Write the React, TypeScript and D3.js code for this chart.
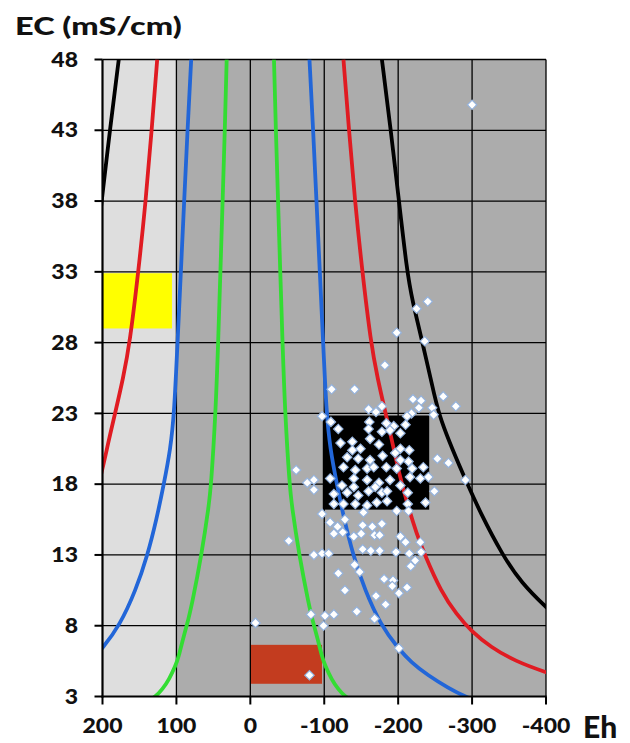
import React from "react";
import * as d3 from "d3";

const WIDTH = 630;
const HEIGHT = 743;

// Axis ticks
const ehTicks = [200, 100, 0, -100, -200, -300, -400];
const ecTicks = [3, 8, 13, 18, 23, 28, 33, 38, 43, 48];

// Reference curves, symmetric about Eh = 0 mV: EC level and |Eh| distance
const blackCurveEC = [48, 43, 38.5, 33, 31, 28, 24, 22.5, 20.5, 18.2, 16, 13, 11, 9.3, 8];
const blackCurveDist = [178, 190, 200, 212, 219, 233, 250, 258, 273, 292, 311, 341, 367, 400, 428];

const redCurveEC = [48, 43, 38, 33, 28, 25.5, 23, 21, 18.8, 16.5, 14.5, 13, 10.4, 8.8, 7.6, 6.5, 5.5, 4.7, 4.2];
const redCurveDist = [126, 133.5, 141.5, 151.5, 163, 172, 183, 192, 201, 213, 225, 236, 258, 279, 299, 325, 358, 400, 430];

const blueCurveEC = [48, 43, 38, 33, 28, 23, 20.5, 18, 15.5, 13, 10.5, 8, 6.4, 5.4, 4.5, 3.6, 3, 2.5];
const blueCurveDist = [80, 85, 89.5, 94, 98.5, 103, 108, 117, 127, 139, 155, 177, 200, 218, 240, 268, 290, 315];

const greenCurveEC = [48, 43, 38, 33, 28, 23, 18, 16.5, 13, 9.5, 8, 7.1, 5.8, 5.2, 4.2, 3.5, 3, 2.6];
const greenCurveDist = [32, 34.5, 37.5, 40.5, 43.5, 47, 53, 56, 66, 79, 86, 91, 97, 101, 110, 119, 128, 140];

// Zones: [Eh from, Eh to], [EC from, EC to]
const yellowZoneEh = [200, 106];
const yellowZoneEC = [29.0, 32.9];
const redZoneEh = [0, -97];
const redZoneEC = [3.9, 6.65];
const blackZoneEh = [-98, -242];
const blackZoneEC = [16.2, 22.85];
const lightBandEh = [200, 100];

// Samples
const sampleEh = [
  -300, -240, -225, -198, -236, -182, -110, -141, -261, -278,
  -220, -231, -228, -246, -178, -160, -170, -218, -212, -248,
  -97, -109, -161, -184, -194, -210, -119, -160, -178, -189,
  -203, -162, -122, -138, -174, -149, -138, -203, -215, -131,
  -146, -162, -179, -196, -203, -214, -253, -268, -126, -142,
  -158, -167, -184, -198, -219, -234, -62, -108, -124, -140,
  -140, -158, -174, -189, -203, -216, -230, -241, -291, -77,
  -86, -86, -113, -131, -146, -160, -169, -178, -185, -213,
  -249, -113, -126, -142, -158, -171, -185, -213, -237, -97,
  -153, -198, -214, -108, -118, -128, -113, -125, -140, -152,
  -150, -165, -178, -168, -175, -52, -86, -97, -106, -152,
  -163, -175, -197, -203, -210, -230, -215, -231, -223, -217,
  -141, -148, -119, -181, -193, -192, -212, -201, -128, -170,
  -183, -144, -168, -82, -101, -113, -99, -7, -201, -80,
];
const sampleEC = [
  44.8, 30.9, 30.4, 28.7, 28.1, 26.4, 24.7, 24.7, 24.2, 23.5,
  24.0, 23.9, 23.4, 23.4, 23.5, 23.3, 23.1, 23.0, 22.8, 22.9,
  22.8, 22.4, 22.4, 22.3, 22.1, 22.2, 21.9, 21.9, 21.7, 21.8,
  21.6, 21.2, 20.9, 21.0, 20.8, 20.5, 20.4, 20.5, 20.4, 19.9,
  19.8, 19.7, 20.0, 20.2, 19.7, 19.6, 19.8, 19.5, 19.2, 19.0,
  19.1, 19.2, 19.2, 19.1, 19.1, 19.2, 19.0, 18.4, 17.9, 18.4,
  17.8, 18.3, 18.1, 18.3, 17.9, 18.5, 18.4, 18.5, 18.3, 18.1,
  18.3, 17.6, 17.3, 17.4, 17.2, 17.5, 17.8, 17.4, 17.5, 17.4,
  17.5, 16.6, 16.6, 16.6, 16.5, 16.7, 16.8, 16.6, 16.7, 15.9,
  16.0, 16.1, 16.1, 15.3, 15.0, 15.5, 14.5, 14.6, 14.3, 15.1,
  14.5, 15.0, 15.2, 14.4, 14.4, 14.0, 13.0, 13.1, 13.1, 13.4,
  13.3, 13.3, 13.2, 14.3, 13.9, 13.9, 13.1, 13.2, 12.6, 12.2,
  12.3, 11.8, 11.7, 11.3, 11.2, 10.8, 10.7, 10.3, 10.5, 10.1,
  9.5, 9.0, 8.5, 8.8, 8.7, 8.8, 8.0, 8.2, 6.4, 4.5,
];

const FONT = "Lato, 'Open Sans', sans-serif";

type StretchProps = {
  x: number;
  y: number;
  size: number;
  sx: number;
  anchor: "start" | "middle" | "end";
  children: React.ReactNode;
};

function StretchText({ x, y, size, sx, anchor, children }: StretchProps) {
  return (
    <text
      transform={`translate(${x},${y}) scale(${sx},1)`}
      fontSize={size}
      fontFamily={FONT}
      fontWeight={900}
      textAnchor={anchor}
      fill="#111"
    >
      {children}
    </text>
  );
}

export default function App() {
  const left = 102.5;
  const right = 546;
  const top = 59.5;
  const bottom = 696.5;

  const x = d3.scaleLinear().domain([200, -400]).range([left, right]);
  const y = d3.scaleLinear().domain([3, 48]).range([bottom, top]);

  const line = d3
    .line<[number, number]>()
    .x((d) => x(d[0]))
    .y((d) => y(d[1]))
    .curve(d3.curveBasis);

  const curves = [
    { ec: greenCurveEC, dist: greenCurveDist, color: "#33dd33" },
    { ec: blueCurveEC, dist: blueCurveDist, color: "#2266d8" },
    { ec: redCurveEC, dist: redCurveDist, color: "#e01b22" },
    { ec: blackCurveEC, dist: blackCurveDist, color: "#000000" },
  ];

  const rect = (eh: number[], ec: number[]) => {
    const x0 = Math.min(x(eh[0]), x(eh[1]));
    const x1 = Math.max(x(eh[0]), x(eh[1]));
    const y0 = Math.min(y(ec[0]), y(ec[1]));
    const y1 = Math.max(y(ec[0]), y(ec[1]));
    return { x: x0, y: y0, width: x1 - x0, height: y1 - y0 };
  };

  const diamond = d3.symbol().type(d3.symbolSquare).size(44)() as string;

  return (
    <svg
      width={WIDTH}
      height={HEIGHT}
      style={{ position: "absolute", left: 0, top: 0, background: "#ffffff" }}
    >
      <defs>
        <clipPath id="plot-clip">
          <rect x={left} y={top} width={right - left} height={bottom - top} />
        </clipPath>
      </defs>

      {/* background bands */}
      <rect x={left} y={top} width={right - left} height={bottom - top} fill="#acacac" />
      <rect {...rect(lightBandEh, [3, 48])} fill="#dedede" />

      {/* zones */}
      <rect {...rect(yellowZoneEh, yellowZoneEC)} fill="#ffff00" />
      <rect {...rect(redZoneEh, redZoneEC)} fill="#c33c1f" />

      {/* grid */}
      <g stroke="#000" strokeWidth={1.3}>
        {ehTicks.slice(1, -1).map((t) => (
          <line key={`gx${t}`} x1={x(t)} x2={x(t)} y1={top} y2={bottom} />
        ))}
        {ecTicks.slice(1, -1).map((t) => (
          <line key={`gy${t}`} x1={left} x2={right} y1={y(t)} y2={y(t)} />
        ))}
        <line x1={left} x2={right} y1={top} y2={top} />
        <line x1={right} x2={right} y1={top} y2={bottom} />
      </g>

      <rect {...rect(blackZoneEh, blackZoneEC)} fill="#000000" />

      {/* curves */}
      <g clipPath="url(#plot-clip)" fill="none" strokeWidth={3.8} strokeLinejoin="round">
        {curves.map((c, i) => {
          const leftBranch = c.ec.map((v, k) => [c.dist[k], v] as [number, number]);
          const rightBranch = c.ec.map((v, k) => [-c.dist[k], v] as [number, number]);
          return (
            <g key={i} stroke={c.color}>
              <path d={line(leftBranch) ?? ""} />
              <path d={line(rightBranch) ?? ""} />
            </g>
          );
        })}
      </g>

      {/* samples */}
      <g clipPath="url(#plot-clip)">
        {sampleEh.map((eh, i) => (
          <path
            key={i}
            d={diamond}
            transform={`translate(${x(eh)},${y(sampleEC[i])}) rotate(45)`}
            fill="#ffffff"
            stroke="#94b2dc"
            strokeWidth={1.2}
          />
        ))}
      </g>

      {/* axes */}
      <g stroke="#000">
        <line x1={left} x2={left} y1={top} y2={bottom + 1} strokeWidth={2.2} />
        <line x1={left - 1} x2={right + 0.7} y1={bottom} y2={bottom} strokeWidth={2.2} />
        {ecTicks.map((t) => (
          <line key={`ty${t}`} x1={left - 8} x2={left} y1={y(t)} y2={y(t)} strokeWidth={2} />
        ))}
        {ehTicks.map((t) => (
          <line key={`tx${t}`} x1={x(t)} x2={x(t)} y1={bottom} y2={bottom + 8} strokeWidth={2} />
        ))}
      </g>

      {ecTicks.map((t) => (
        <StretchText key={`ly${t}`} x={78} y={y(t) + 7.2} size={20} sx={1.15} anchor="end">
          {t}
        </StretchText>
      ))}
      {ehTicks.map((t) => (
        <StretchText key={`lx${t}`} x={x(t)} y={733} size={20} sx={1.15} anchor="middle">
          {t}
        </StretchText>
      ))}

      <StretchText x={15} y={35} size={25} sx={1.3} anchor="start">
        EC (mS/cm)
      </StretchText>
      <StretchText x={583} y={738} size={30} sx={1} anchor="start">
        Eh
      </StretchText>
    </svg>
  );
}
